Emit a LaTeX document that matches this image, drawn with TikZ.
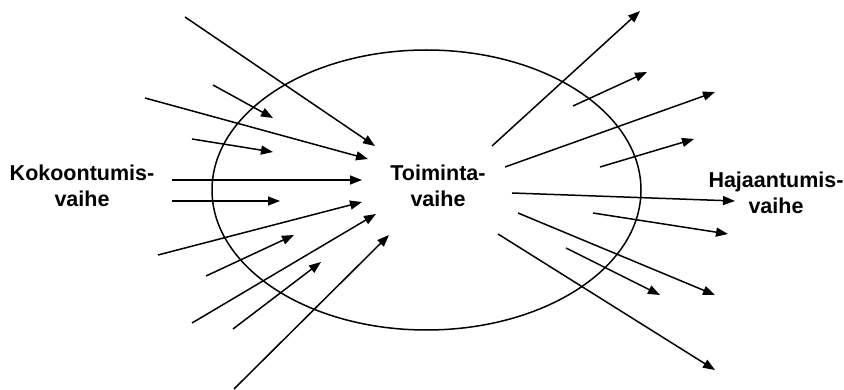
\documentclass[tikz,border=0pt]{standalone}
\usepackage{fontspec}
\setmainfont{Liberation Sans}
\usetikzlibrary{arrows.meta,shapes.geometric}
\begin{document}
\begin{tikzpicture}[x=1pt,y=-1pt,
  arr/.style={line width=1.5pt,-{Triangle[length=12pt,width=9pt]}},
  lbl/.style={font=\fontsize{21.5}{26}\selectfont\bfseries,align=center,inner sep=0pt}]
\useasboundingbox (0,0) rectangle (844,390);
\node[draw,line width=1.5pt,ellipse,minimum width=429pt,minimum height=280pt,inner sep=0pt] (ell) at (426.5,190) {};
\node[lbl] (k) at (82,186) {Kokoontumis-\\vaihe};
\node[lbl] (t) at (438,186) {Toiminta-\\vaihe};
\node[lbl] (h) at (776,193) {Hajaantumis-\\vaihe};
% incoming
\coordinate (s1) at (185,17);   \coordinate (e1) at (375,146);
\coordinate (s2) at (213,85);   \coordinate (e2) at (273,118);
\coordinate (s3) at (145,98);   \coordinate (e3) at (368,159);
\coordinate (s4) at (192,139);  \coordinate (e4) at (273,152);
\coordinate (s5) at (172,180);  \coordinate (e5) at (362,180);
\coordinate (s6) at (172,201);  \coordinate (e6) at (280,201);
\coordinate (s7) at (158,255);  \coordinate (e7) at (362,202);
\coordinate (s8) at (206,276);  \coordinate (e8) at (294,235);
\coordinate (s9) at (192,323);  \coordinate (e9) at (376,214);
\coordinate (s10) at (233,329); \coordinate (e10) at (321,262);
\coordinate (s11) at (234,389); \coordinate (e11) at (389,235);
% outgoing
\coordinate (s12) at (492,146); \coordinate (e12) at (640,11);
\coordinate (s13) at (573,106); \coordinate (e13) at (647,72);
\coordinate (s14) at (505,167); \coordinate (e14) at (715,92);
\coordinate (s15) at (600,167); \coordinate (e15) at (694,139);
\coordinate (s16) at (512,193); \coordinate (e16) at (735,201);
\coordinate (s17) at (593,213); \coordinate (e17) at (728,234);
\coordinate (s18) at (518,213); \coordinate (e18) at (715,295);
\coordinate (s19) at (566,248); \coordinate (e19) at (660,295);
\coordinate (s20) at (498,234); \coordinate (e20) at (715,370);
\foreach \i in {1,...,20} {\draw[arr] (s\i) -- (e\i);}
\end{tikzpicture}
\end{document}
